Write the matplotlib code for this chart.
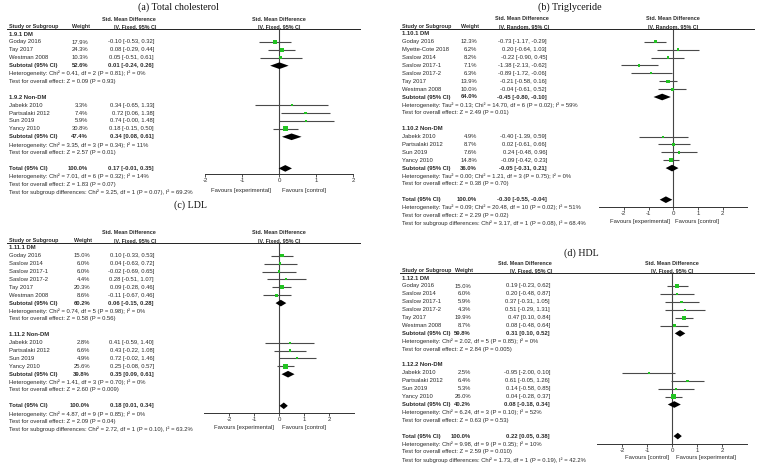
import matplotlib.pyplot as plt
import matplotlib.transforms as mtransforms
from matplotlib.lines import Line2D
import numpy as np

plt.rcParams["font.family"] = ["Liberation Sans", "DejaVu Sans"]
plt.rcParams["axes.unicode_minus"] = False

W, H = 757, 468
PITCH = 7.9  # px per table row
FS = 4.2
FS_HEAD = 3.9
GREEN = "#22c322"
TXT = "#2a2a2a"

# ---------------- (a) Total cholesterol ----------------
a_subgroups = ["1.9.1 DM", "1.9.2 Non-DM"]
a_names = ["Goday 2016", "Tay 2017", "Westman 2008",
           "Jabekk 2010", "Partsalaki 2012", "Sun 2019", "Yancy 2010"]
a_group = [0, 0, 0, 1, 1, 1, 1]
a_weight = [17.9, 24.3, 10.3, 3.3, 7.4, 5.9, 30.8]
a_smd = [-0.10, 0.08, 0.05, 0.34, 0.72, 0.74, 0.18]
a_lo = [-0.53, -0.29, -0.51, -0.65, 0.06, -0.0, -0.15]
a_hi = [0.32, 0.44, 0.61, 1.33, 1.38, 1.48, 0.50]
a_sub_weight = [52.6, 47.4]
a_sub_smd = [0.01, 0.34]
a_sub_lo = [-0.24, 0.08]
a_sub_hi = [0.26, 0.61]
a_sub_het = ["Heterogeneity: Chi² = 0.41, df = 2 (P = 0.81); I² = 0%",
             "Heterogeneity: Chi² = 3.35, df = 3 (P = 0.34); I² = 11%"]
a_sub_z = ["Test for overall effect: Z = 0.09 (P = 0.93)",
           "Test for overall effect: Z = 2.57 (P = 0.01)"]
a_total = [100.0, 0.17, -0.01, 0.35]
a_notes = ["Heterogeneity: Chi² = 7.01, df = 6 (P = 0.32); I² = 14%",
           "Test for overall effect: Z = 1.83 (P = 0.07)",
           "Test for subgroup differences: Chi² = 3.25, df = 1 (P = 0.07), I² = 69.2%"]

# ---------------- (b) Triglyceride ----------------
b_subgroups = ["1.10.1 DM", "1.10.2 Non-DM"]
b_names = ["Goday 2016", "Myette-Cote 2018", "Saslow 2014", "Saslow 2017-1",
           "Saslow 2017-2", "Tay 2017", "Westman 2008",
           "Jabekk 2010", "Partsalaki 2012", "Sun 2019", "Yancy 2010"]
b_group = [0, 0, 0, 0, 0, 0, 0, 1, 1, 1, 1]
b_weight = [12.3, 6.2, 8.2, 7.1, 6.3, 13.9, 10.0, 4.9, 8.7, 7.6, 14.8]
b_smd = [-0.73, 0.20, -0.22, -1.38, -0.89, -0.21, -0.04, -0.40, 0.02, 0.24, -0.09]
b_lo = [-1.17, -0.64, -0.90, -2.13, -1.72, -0.58, -0.61, -1.39, -0.61, -0.48, -0.42]
b_hi = [-0.29, 1.03, 0.45, -0.62, -0.06, 0.16, 0.52, 0.59, 0.66, 0.96, 0.23]
b_sub_weight = [64.0, 36.0]
b_sub_smd = [-0.45, -0.05]
b_sub_lo = [-0.80, -0.31]
b_sub_hi = [-0.10, 0.21]
b_sub_het = ["Heterogeneity: Tau² = 0.13; Chi² = 14.70, df = 6 (P = 0.02); I² = 59%",
             "Heterogeneity: Tau² = 0.00; Chi² = 1.21, df = 3 (P = 0.75); I² = 0%"]
b_sub_z = ["Test for overall effect: Z = 2.49 (P = 0.01)",
           "Test for overall effect: Z = 0.38 (P = 0.70)"]
b_total = [100.0, -0.30, -0.55, -0.04]
b_notes = ["Heterogeneity: Tau² = 0.09; Chi² = 20.48, df = 10 (P = 0.02); I² = 51%",
           "Test for overall effect: Z = 2.29 (P = 0.02)",
           "Test for subgroup differences: Chi² = 3.17, df = 1 (P = 0.08), I² = 68.4%"]

# ---------------- (c) LDL ----------------
c_subgroups = ["1.11.1 DM", "1.11.2 Non-DM"]
c_names = ["Goday 2016", "Saslow 2014", "Saslow 2017-1", "Saslow 2017-2",
           "Tay 2017", "Westman 2008",
           "Jabekk 2010", "Partsalaki 2012", "Sun 2019", "Yancy 2010"]
c_group = [0, 0, 0, 0, 0, 0, 1, 1, 1, 1]
c_weight = [15.0, 6.0, 6.0, 4.4, 20.3, 8.6, 2.8, 6.6, 4.9, 25.6]
c_smd = [0.10, 0.04, -0.02, 0.28, 0.09, -0.11, 0.41, 0.43, 0.72, 0.25]
c_lo = [-0.33, -0.63, -0.69, -0.51, -0.28, -0.67, -0.59, -0.22, -0.02, -0.08]
c_hi = [0.53, 0.72, 0.65, 1.07, 0.46, 0.46, 1.40, 1.08, 1.46, 0.57]
c_sub_weight = [60.2, 39.8]
c_sub_smd = [0.06, 0.35]
c_sub_lo = [-0.15, 0.09]
c_sub_hi = [0.28, 0.61]
c_sub_het = ["Heterogeneity: Chi² = 0.74, df = 5 (P = 0.98); I² = 0%",
             "Heterogeneity: Chi² = 1.41, df = 3 (P = 0.70); I² = 0%"]
c_sub_z = ["Test for overall effect: Z = 0.58 (P = 0.56)",
           "Test for overall effect: Z = 2.60 (P = 0.009)"]
c_total = [100.0, 0.18, 0.01, 0.34]
c_notes = ["Heterogeneity: Chi² = 4.87, df = 9 (P = 0.85); I² = 0%",
           "Test for overall effect: Z = 2.09 (P = 0.04)",
           "Test for subgroup differences: Chi² = 2.72, df = 1 (P = 0.10), I² = 63.2%"]

# ---------------- (d) HDL ----------------
d_subgroups = ["1.12.1 DM", "1.12.2 Non-DM"]
d_names = ["Goday 2016", "Saslow 2014", "Saslow 2017-1", "Saslow 2017-2",
           "Tay 2017", "Westman 2008",
           "Jabekk 2010", "Partsalaki 2012", "Sun 2019", "Yancy 2010"]
d_group = [0, 0, 0, 0, 0, 0, 1, 1, 1, 1]
d_weight = [15.0, 6.0, 5.9, 4.3, 19.9, 8.7, 2.5, 6.4, 5.3, 26.0]
d_smd = [0.19, 0.20, 0.37, 0.51, 0.47, 0.08, -0.95, 0.61, 0.14, 0.04]
d_lo = [-0.23, -0.48, -0.31, -0.29, 0.10, -0.48, -2.00, -0.05, -0.58, -0.28]
d_hi = [0.62, 0.87, 1.05, 1.31, 0.84, 0.64, 0.10, 1.26, 0.85, 0.37]
d_sub_weight = [59.8, 40.2]
d_sub_smd = [0.31, 0.08]
d_sub_lo = [0.10, -0.18]
d_sub_hi = [0.52, 0.34]
d_sub_het = ["Heterogeneity: Chi² = 2.02, df = 5 (P = 0.85); I² = 0%",
             "Heterogeneity: Chi² = 6.24, df = 3 (P = 0.10); I² = 52%"]
d_sub_z = ["Test for overall effect: Z = 2.84 (P = 0.005)",
           "Test for overall effect: Z = 0.63 (P = 0.53)"]
d_total = [100.0, 0.22, 0.05, 0.38]
d_notes = ["Heterogeneity: Chi² = 9.98, df = 9 (P = 0.35); I² = 10%",
           "Test for overall effect: Z = 2.59 (P = 0.010)",
           "Test for subgroup differences: Chi² = 1.73, df = 1 (P = 0.19), I² = 42.2%"]


def ci_text(m, lo, hi):
    return f"{m:.2f} [{lo:.2f}, {hi:.2f}]"


def draw_panel(fig, subgroups, names, group, weight, smd, lo, hi,
               sub_weight, sub_smd, sub_lo, sub_hi, sub_het, sub_z,
               total, notes, lay):
    row0, ax_row = lay["row0"], lay["ax_row"]
    zero, upp, lim = lay["zero"], lay["upp"], lay["lim"]
    top = row0 - 0.6 * PITCH
    bot = row0 + ax_row * PITCH
    left = zero - lim * upp
    ax = fig.add_axes([left / W, 1 - bot / H, 2 * lim * upp / W, (bot - top) / H])
    ax.set_xlim(-lim, lim)
    ax.set_ylim(ax_row, -0.6)
    ax.patch.set_visible(False)
    for s in ["top", "left", "right"]:
        ax.spines[s].set_visible(False)
    ax.spines["bottom"].set_bounds(*lay["axis"])
    ax.spines["bottom"].set_linewidth(0.7)
    ax.spines["bottom"].set_color("#333333")
    ax.set_yticks([])
    ax.set_xticks([-2, -1, 0, 1, 2])
    ax.set_xticklabels(["-2", "-1", "0", "1", "2"])
    ax.tick_params(axis="x", length=2.2, width=0.6, labelsize=4.4, pad=0.6,
                   colors="#333333")
    ax.axvline(0, color="#444444", lw=0.8, zorder=1)

    tr = mtransforms.blended_transform_factory(fig.transFigure, ax.transData)

    def put(x, r, s, ha="left", bold=False, size=FS):
        ax.text(x / W, r, s, transform=tr, ha=ha, va="center", fontsize=size,
                fontweight="bold" if bold else "normal", color=TXT)

    # column headers
    tx, wx, cx = lay["tx"], lay["wx"], lay["cx"]
    put(cx + 2, -1.9, "Std. Mean Difference", ha="right", bold=True, size=FS_HEAD)
    put(tx, -0.95, "Study or Subgroup", bold=True, size=FS_HEAD)
    put(wx + 2, -0.95, "Weight", ha="right", bold=True, size=FS_HEAD)
    put(cx + 2, -0.95, lay["method"], ha="right", bold=True, size=FS_HEAD)
    put(zero, -1.9, "Std. Mean Difference", ha="center", bold=True, size=FS_HEAD)
    put(zero, -0.95, lay["method"], ha="center", bold=True, size=FS_HEAD)
    fig.add_artist(Line2D([lay["line_l"] / W, (zero + lim * upp) / W], [-0.6, -0.6],
                          transform=tr, color="#222222", lw=0.7))

    group = np.array(group)
    r = 0
    study_rows = np.zeros(len(names))
    for g, title in enumerate(subgroups):
        put(tx, r, title, bold=True)
        r += 1
        for i in np.where(group == g)[0]:
            study_rows[i] = r
            put(tx, r, names[i])
            put(wx, r, f"{weight[i]:.1f}%", ha="right")
            put(cx, r, ci_text(smd[i], lo[i], hi[i]), ha="right")
            r += 1
        put(tx, r, "Subtotal (95% CI)", bold=True)
        put(wx, r, f"{sub_weight[g]:.1f}%", ha="right", bold=True)
        put(cx, r, ci_text(sub_smd[g], sub_lo[g], sub_hi[g]), ha="right", bold=True)
        ax.fill([sub_lo[g], sub_smd[g], sub_hi[g], sub_smd[g]],
                [r, r - 0.42, r, r + 0.42], color="black", zorder=4, lw=0)
        put(tx, r + 1, sub_het[g])
        put(tx, r + 2, sub_z[g])
        r += 4
    put(tx, r, "Total (95% CI)", bold=True)
    put(wx, r, f"{total[0]:.1f}%", ha="right", bold=True)
    put(cx, r, ci_text(total[1], total[2], total[3]), ha="right", bold=True)
    ax.fill([total[2], total[1], total[3], total[1]],
            [r, r - 0.42, r, r + 0.42], color="black", zorder=4, lw=0)
    for k, note in enumerate(notes):
        put(tx, r + 1 + k, note)

    # study CIs and weighted squares
    ax.hlines(study_rows, lo, hi, color="#4a4a4a", lw=0.8, zorder=2)
    side_px = np.maximum(2.0, 0.9 * np.sqrt(np.array(weight)))
    ax.scatter(smd, study_rows, s=(side_px * 0.72) ** 2, marker="s",
               color=GREEN, lw=0, zorder=3)

    # favours labels and title
    fy = 1 - lay["fav_y"] / H
    fig.text(lay["fav_x"][0] / W, fy, lay["fav"][0], ha="center", va="center",
             fontsize=FS, color=TXT)
    fig.text(lay["fav_x"][1] / W, fy, lay["fav"][1], ha="center", va="center",
             fontsize=FS, color=TXT)
    fig.text(lay["title_xy"][0] / W, 1 - lay["title_xy"][1] / H, lay["title"],
             ha="center", va="center", fontsize=7.2, color="#111111",
             family=["Liberation Serif", "DejaVu Serif"])
    return ax


fig = plt.figure(figsize=(W / 100, H / 100), dpi=100)

lay_a = dict(row0=34.1, ax_row=17.75, zero=279, upp=37, lim=2.19, axis=(-2, 2),
             tx=9, wx=88, cx=154, line_l=7, method="IV, Fixed, 95% CI",
             fav=("Favours [experimental]", "Favours [control]"), fav_x=(241, 304.5),
             fav_y=190.5, title="(a) Total cholesterol", title_xy=(178, 7))
lay_b = dict(row0=33.8, ax_row=21.95, zero=673.3, upp=24.7, lim=3.27, axis=(-3, 3),
             tx=402, wx=477, cx=547, line_l=400, method="IV, Random, 95% CI",
             fav=("Favours [experimental]", "Favours [control]"), fav_x=(640, 697.5),
             fav_y=221, title="(b) Triglyceride", title_xy=(570, 7))
lay_c = dict(row0=247.8, ax_row=20.95, zero=279.3, upp=25, lim=3.23, axis=(-3, 3),
             tx=9, wx=90, cx=154, line_l=7, method="IV, Fixed, 95% CI",
             fav=("Favours [experimental]", "Favours [control]"), fav_x=(244, 304),
             fav_y=427, title="(c) LDL", title_xy=(190, 205))
lay_d = dict(row0=278.1, ax_row=21.04, zero=672.3, upp=25, lim=3.27, axis=(-3, 3),
             tx=402, wx=471, cx=550, line_l=400, method="IV, Fixed, 95% CI",
             fav=("Favours [control]", "Favours [experimental]"), fav_x=(647.5, 705.5),
             fav_y=457, title="(d) HDL", title_xy=(581, 253))

draw_panel(fig, a_subgroups, a_names, a_group, a_weight, a_smd, a_lo, a_hi,
           a_sub_weight, a_sub_smd, a_sub_lo, a_sub_hi, a_sub_het, a_sub_z,
           a_total, a_notes, lay_a)
draw_panel(fig, b_subgroups, b_names, b_group, b_weight, b_smd, b_lo, b_hi,
           b_sub_weight, b_sub_smd, b_sub_lo, b_sub_hi, b_sub_het, b_sub_z,
           b_total, b_notes, lay_b)
draw_panel(fig, c_subgroups, c_names, c_group, c_weight, c_smd, c_lo, c_hi,
           c_sub_weight, c_sub_smd, c_sub_lo, c_sub_hi, c_sub_het, c_sub_z,
           c_total, c_notes, lay_c)
draw_panel(fig, d_subgroups, d_names, d_group, d_weight, d_smd, d_lo, d_hi,
           d_sub_weight, d_sub_smd, d_sub_lo, d_sub_hi, d_sub_het, d_sub_z,
           d_total, d_notes, lay_d)

fig.savefig("out.png", dpi=100)
